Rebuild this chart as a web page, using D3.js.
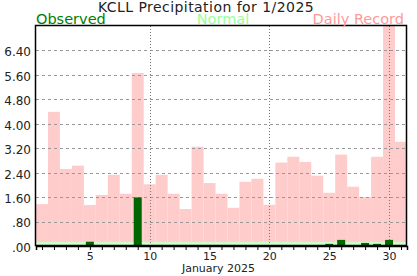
<!DOCTYPE html>
<html>
<head>
<meta charset="utf-8">
<script src="https://cdn.jsdelivr.net/npm/d3@7"></script>
<style>
  body { margin: 0; background: #fff; }
  text { font-family: "DejaVu Sans", Verdana, sans-serif; }
</style>
</head>
<body>
<div id="vis1"></div>
<script>
const FRAME_HEIGHT = 276;
const FRAME_WIDTH = 417;
const MARGINS = {left: 36, right: 10, top: 26, bottom: 30};

const VIS_HEIGHT = FRAME_HEIGHT - MARGINS.top - MARGINS.bottom;
const VIS_WIDTH = FRAME_WIDTH - MARGINS.left - MARGINS.right;

// data
const days = d3.range(1, 32);
const observed = [0, 0, 0, 0, 0.14, 0, 0, 0, 1.59, 0, 0, 0, 0, 0.03, 0.03, 0,
    0, 0, 0, 0, 0, 0, 0, 0, 0.07, 0.20, 0.03, 0.10, 0.07, 0.20, 0];
const normal = [0.13, 0.13, 0.13, 0.13, 0.13, 0.13, 0.13, 0.13, 0.13, 0.13, 0.13,
    0.13, 0.13, 0.13, 0.13, 0.13, 0.13, 0.13, 0.13, 0.13, 0.13, 0.13, 0.13, 0.13,
    0.13, 0.13, 0.13, 0.13, 0.13, 0.13, 0.13];
const record = [1.37, 4.39, 2.52, 2.63, 1.34, 1.67, 2.33, 1.71, 5.66, 2.02, 2.33,
    1.71, 1.21, 3.25, 2.06, 1.71, 1.25, 2.10, 2.20, 1.35, 2.73, 2.92, 2.75, 2.30,
    1.74, 2.99, 1.94, 1.60, 2.92, 7.60, 3.41];
const yTicks = [0, 0.8, 1.6, 2.4, 3.2, 4.0, 4.8, 5.6, 6.4];
const xLabels = [5, 10, 15, 20, 25, 30];
const vLines = [10, 20, 30];

const FRAME = d3.select("#vis1")
    .append("svg")
    .attr("height", FRAME_HEIGHT)
    .attr("width", FRAME_WIDTH);

const X_SCALE = d3.scaleLinear()
    .domain([0.5, 31.5])
    .range([MARGINS.left, MARGINS.left + VIS_WIDTH]);

const Y_SCALE = d3.scaleLinear()
    .domain([0, 7.2])
    .range([MARGINS.top + VIS_HEIGHT, MARGINS.top]);

const DAY_W = X_SCALE(2) - X_SCALE(1);

FRAME.append("clipPath")
    .attr("id", "clip")
    .append("rect")
    .attr("x", MARGINS.left)
    .attr("y", MARGINS.top)
    .attr("width", VIS_WIDTH)
    .attr("height", VIS_HEIGHT);

const plotArea = FRAME.append("g").attr("clip-path", "url(#clip)");

// record bars
plotArea.selectAll(".rec")
    .data(days)
    .enter()
    .append("rect")
    .attr("x", (d) => X_SCALE(d) - DAY_W / 2)
    .attr("y", (d, i) => Y_SCALE(record[i]))
    .attr("width", DAY_W)
    .attr("height", (d, i) => Y_SCALE(0) - Y_SCALE(record[i]))
    .style("fill", "#ffcccc");

// normal bars
plotArea.selectAll(".norm")
    .data(days)
    .enter()
    .append("rect")
    .attr("x", (d) => X_SCALE(d) - DAY_W / 2)
    .attr("y", (d, i) => Y_SCALE(normal[i]))
    .attr("width", DAY_W + 0.5)
    .attr("height", (d, i) => Y_SCALE(0) - Y_SCALE(normal[i]))
    .style("fill", "#ccffcc");

// horizontal grid
plotArea.selectAll(".hgrid")
    .data(yTicks.slice(1))
    .enter()
    .append("line")
    .attr("x1", MARGINS.left)
    .attr("x2", MARGINS.left + VIS_WIDTH)
    .attr("y1", (d) => Math.round(Y_SCALE(d)) + 0.5)
    .attr("y2", (d) => Math.round(Y_SCALE(d)) + 0.5)
    .style("stroke", "#999")
    .style("stroke-dasharray", "3,3");

// vertical grid
plotArea.selectAll(".vgrid")
    .data(vLines)
    .enter()
    .append("line")
    .attr("x1", (d) => Math.round(X_SCALE(d)) + 0.5)
    .attr("x2", (d) => Math.round(X_SCALE(d)) + 0.5)
    .attr("y1", MARGINS.top)
    .attr("y2", MARGINS.top + VIS_HEIGHT)
    .style("stroke", "#777")
    .style("stroke-dasharray", "1,2");

// observed bars
plotArea.selectAll(".obs")
    .data(days)
    .enter()
    .append("rect")
    .attr("x", (d) => X_SCALE(d) - 4)
    .attr("y", (d, i) => Y_SCALE(observed[i]))
    .attr("width", 8)
    .attr("height", (d, i) => Y_SCALE(0) - Y_SCALE(observed[i]))
    .style("fill", "#006600");

// frame
FRAME.append("rect")
    .attr("x", MARGINS.left - 0.5)
    .attr("y", MARGINS.top - 0.5)
    .attr("width", VIS_WIDTH)
    .attr("height", VIS_HEIGHT)
    .style("fill", "none")
    .style("stroke", "#000")
    .style("stroke-width", 1.5);

// bottom axis
const xAxis = FRAME.append("g")
    .attr("transform", "translate(0," + (MARGINS.top + VIS_HEIGHT) + ")")
    .call(d3.axisBottom(X_SCALE)
        .tickValues(days)
        .tickSize(4)
        .tickPadding(2)
        .tickFormat((d) => xLabels.includes(d) ? d : ""));
xAxis.select(".domain").style("stroke", "#000").style("stroke-width", 1.5);
xAxis.selectAll("text")
    .style("font-family", "DejaVu Sans, Verdana, sans-serif")
    .style("font-size", "11px")
    .style("fill", "#222");

// left axis
const yAxis = FRAME.append("g")
    .attr("transform", "translate(" + MARGINS.left + ",0)")
    .call(d3.axisLeft(Y_SCALE)
        .tickValues(yTicks)
        .tickSize(0)
        .tickPadding(5)
        .tickFormat((d) => d3.format(".2f")(d).replace(/^0/, "")));
yAxis.select(".domain").remove();
yAxis.selectAll("text")
    .style("font-family", "DejaVu Sans, Verdana, sans-serif")
    .style("font-size", "12px")
    .style("fill", "#222")
    .attr("dy", "0.45em");

FRAME.append("text")
    .attr("x", 218.5)
    .attr("y", 272)
    .attr("text-anchor", "middle")
    .style("font-size", "11px")
    .style("fill", "#222")
    .text("January 2025");

// title + legend
FRAME.append("text")
    .attr("x", 206)
    .attr("y", 11.5)
    .attr("text-anchor", "middle")
    .style("font-size", "14px")
    .style("letter-spacing", "0.45px")
    .style("fill", "#222")
    .text("KCLL Precipitation for 1/2025");

FRAME.append("text")
    .attr("x", MARGINS.left)
    .attr("y", 23.5)
    .style("font-size", "14.5px")
    .style("fill", "#008000")
    .text("Observed");

FRAME.append("text")
    .attr("x", 223)
    .attr("y", 23.5)
    .attr("text-anchor", "middle")
    .style("font-size", "14.5px")
    .style("fill", "#99ff99")
    .text("Normal");

FRAME.append("text")
    .attr("x", 404)
    .attr("y", 23.5)
    .attr("text-anchor", "end")
    .style("font-size", "14.5px")
    .style("fill", "#ff9999")
    .text("Daily Record");
</script>
</body>
</html>
